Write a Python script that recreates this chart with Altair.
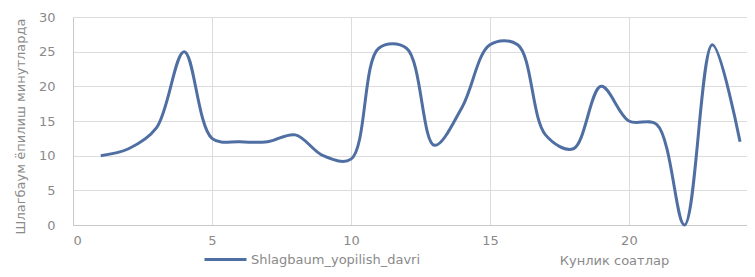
import altair as alt
import pandas as pd

hours = list(range(1, 25))
minutes = [10, 11, 14, 25, 12.5, 12, 12, 13, 10, 9.5, 25.5, 25.5,
           11.5, 17, 26, 26, 13, 11, 20, 15, 14.5, 0, 26, 12]
series_name = "Shlagbaum_yopilish_davri"

df = pd.DataFrame({"hour": hours, "minutes": minutes, "series": series_name})

font = "DejaVu Sans"
gray = "#8a8a8a"
line_color = "#4f6fa3"

chart = alt.Chart(df).mark_line(
    interpolate="catmull-rom", strokeWidth=3
).encode(
    x=alt.X("hour:Q",
            scale=alt.Scale(domain=[0, 24.25], nice=False, zero=False),
            axis=alt.Axis(values=[0, 5, 10, 15, 20], title="Кунлик соатлар",
                          titleX=541, titleY=35, titleAlign="center",
                          titleBaseline="middle", labelPadding=9,
                          ticks=False, grid=True, format="d")),
    y=alt.Y("minutes:Q",
            scale=alt.Scale(domain=[0, 30], nice=False),
            axis=alt.Axis(values=[0, 5, 10, 15, 20, 25, 30],
                          title="Шлагбаум ёпилиш минутларда",
                          titleX=-53, titleY=109, titleAlign="center",
                          titleBaseline="middle", titleAngle=270,
                          labelPadding=18, ticks=False, grid=True)),
    color=alt.Color("series:N",
                    scale=alt.Scale(range=[line_color]),
                    legend=alt.Legend(title=None, orient="none",
                                      legendX=130, legendY=220, padding=0,
                                      symbolType="stroke", symbolSize=1764,
                                      symbolStrokeWidth=3, labelFontSize=13,
                                      labelColor=gray, labelFont=font,
                                      labelOffset=3, labelLimit=400)),
).properties(
    width=674, height=208,
    autosize=alt.AutoSizeParams(type="none"),
    padding={"left": 65, "top": 9, "right": 0, "bottom": 44},
).configure_axis(
    labelFont=font, labelFontSize=13, labelColor=gray,
    titleFont=font, titleFontSize=13, titleColor=gray, titleFontWeight="normal",
    gridColor="#dcdcdc", gridWidth=1, domainColor="#c8c8c8", domainWidth=1,
).configure_axisY(
    domain=True,
).configure_view(
    stroke=None,
)

chart.save("out.html", embed_options={"renderer": "svg", "actions": False})
